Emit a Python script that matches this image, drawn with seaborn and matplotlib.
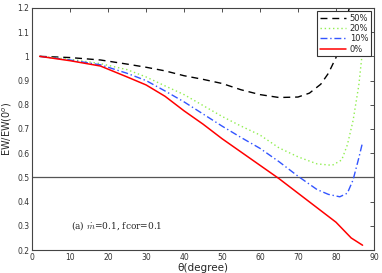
import matplotlib
matplotlib.use("Agg")
import matplotlib.pyplot as plt
import seaborn as sns
import pandas as pd

# values
theta_50 = [2, 10, 18, 25, 30, 35, 40, 45, 50, 55, 60, 65, 70, 73, 76, 78, 80, 82, 83.5]
ew_50 = [1.0, 0.995, 0.985, 0.968, 0.955, 0.94, 0.92, 0.905, 0.888, 0.862, 0.842, 0.83, 0.832, 0.848, 0.885, 0.93, 0.995, 1.1, 1.2]

theta_20 = [2, 10, 18, 25, 30, 35, 40, 45, 50, 55, 60, 65, 70, 75, 79, 81.5, 83, 84.5, 86, 87.5]
ew_20 = [1.0, 0.988, 0.97, 0.945, 0.915, 0.878, 0.842, 0.797, 0.752, 0.712, 0.675, 0.622, 0.585, 0.556, 0.55, 0.572, 0.635, 0.735, 0.88, 1.1]

theta_10 = [2, 10, 18, 25, 30, 35, 40, 45, 50, 55, 60, 65, 70, 75, 78, 81, 83, 84.5, 86, 87]
ew_10 = [1.0, 0.985, 0.965, 0.93, 0.9, 0.857, 0.812, 0.762, 0.712, 0.665, 0.62, 0.565, 0.505, 0.45, 0.43, 0.42, 0.435, 0.49, 0.58, 0.645]

theta_0 = [2, 10, 18, 25, 30, 35, 40, 45, 50, 55, 60, 65, 70, 75, 80, 84, 87]
ew_0 = [1.0, 0.982, 0.96, 0.915, 0.882, 0.835, 0.775, 0.72, 0.66, 0.605, 0.55, 0.495, 0.435, 0.375, 0.315, 0.25, 0.22]

series = [
    ("50%", theta_50, ew_50, "black", (0, (5, 3.5)), 1.0),
    ("20%", theta_20, ew_20, "#90ee50", (0, (1, 2)), 1.0),
    ("10%", theta_10, ew_10, "#3355ff", (0, (5, 2, 1, 2)), 1.0),
    ("0%", theta_0, ew_0, "red", "-", 1.1),
]

sns.set_theme(style="white")
plt.rcParams["font.family"] = ["DejaVu Sans"]

fig = plt.figure(figsize=(3.82, 2.73), dpi=100)
ax = fig.add_axes([0.084, 0.084, 0.895, 0.887])

for label, th, ew, color, ls, lw in series:
    df = pd.DataFrame({"theta": th, "ew": ew})
    sns.lineplot(data=df, x="theta", y="ew", ax=ax, color=color, linestyle=ls,
                 linewidth=lw, label=label, sort=False, estimator=None)

ax.axhline(0.5, color="#555555", linewidth=0.9, zorder=1)

ax.set_xlim(0, 90)
ax.set_ylim(0.2, 1.2)
ax.set_xticks(range(0, 91, 10))
ax.set_yticks([0.2, 0.3, 0.4, 0.5, 0.6, 0.7, 0.8, 0.9, 1.0, 1.1, 1.2])
ax.set_yticklabels(["0.2", "0.3", "0.4", "0.5", "0.6", "0.7", "0.8", "0.9", "1", "1.1", "1.2"])
ax.tick_params(direction="in", length=3, width=0.6, labelsize=5.5, top=True, right=True,
               colors="#333333", pad=2)
for s in ax.spines.values():
    s.set_color("#444444")
    s.set_linewidth(0.8)

ax.set_xlabel("θ(degree)", fontsize=7.5, labelpad=1)
ax.set_ylabel("EW/EW(0$^o$)", fontsize=7, labelpad=2)

ax.text(10.3, 0.3, r"(a) $\dot{m}$=0.1, fcor=0.1", fontsize=6.5, family="serif",
        va="center", ha="left", math_fontfamily="cm")

leg = ax.legend(loc="upper right", fontsize=6, frameon=True, fancybox=False,
                handlelength=3.2, handletextpad=0.4, borderpad=0.3, labelspacing=0.15,
                borderaxespad=0.4)
leg.get_frame().set_edgecolor("#333333")
leg.get_frame().set_linewidth(0.8)
leg.get_frame().set_alpha(1)

fig.savefig("out.png", dpi=100)
